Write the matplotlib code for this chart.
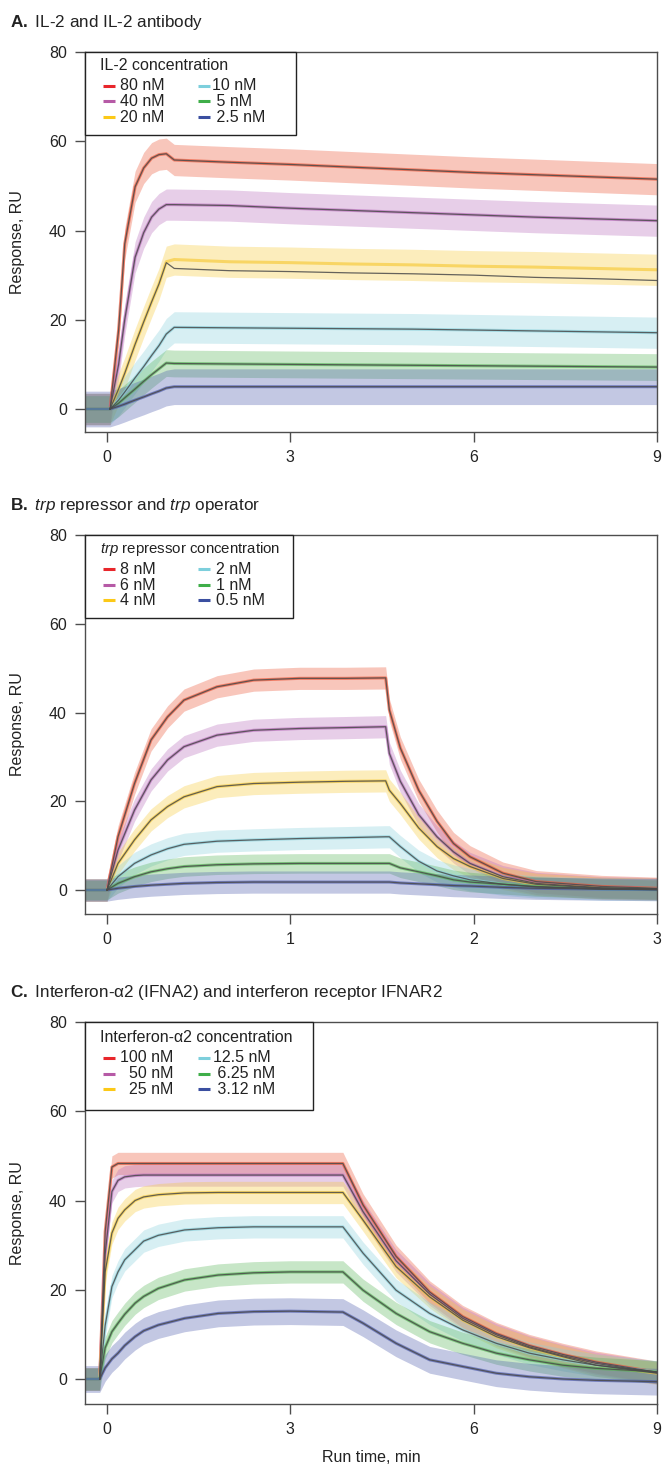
import numpy as np
import matplotlib
matplotlib.use('Agg')
import matplotlib.pyplot as plt
from matplotlib.patches import Rectangle

plt.rcParams['font.family'] = ['Liberation Sans', 'DejaVu Sans']
plt.rcParams['mathtext.fontset'] = 'custom'
plt.rcParams['mathtext.rm'] = 'Liberation Sans'
plt.rcParams['mathtext.it'] = 'Liberation Sans:italic'
plt.rcParams['mathtext.bf'] = 'Liberation Sans:bold'

TRACE_COLORS = ['#ec5233', '#b86bbb', '#f6c936', '#86d0db', '#55b455', '#4a58ac']
HANDLE_COLORS = ['#e8262b', '#b65aa6', '#fcc917', '#7dcfdc', '#3fae49', '#3b4fa0']
FIT_COLOR = '#4a4a4a'
TEXT_COLOR = '#222222'
FS = 11.5
TITLE_FS = 12.3

# ---- Panel A: IL-2 / IL-2 antibody (fitted responses, RU) ----
a_time = [-0.36, 0.0, 0.05, 0.19, 0.29, 0.46, 0.6, 0.73, 0.85, 0.97, 1.1,
          2.0, 3.0, 4.0, 5.0, 6.0, 7.0, 8.0, 9.0]
a_80 = [0, 0, 0, 17.7, 37, 49.8, 54, 56.2, 57, 57.2, 55.8,
        55.3, 54.8, 54.2, 53.6, 53, 52.5, 52, 51.5]
a_40 = [0, 0, 0, 10, 20, 34, 39.5, 43, 44.8, 45.8, 45.8,
        45.6, 45, 44.5, 44, 43.5, 43, 42.6, 42.2]
a_20 = [0, 0, 0, 4.5, 8, 14.5, 19.5, 24, 28, 32.8, 31.5,
        31, 30.8, 30.5, 30.3, 30, 29.5, 29.2, 28.8]
a_10 = [0, 0, 0, 2, 3.8, 7, 9.5, 12, 14.2, 16.8, 18.3,
        18.2, 18.1, 18, 17.9, 17.7, 17.5, 17.3, 17.1]
a_5 = [0, 0, 0, 1.3, 2.5, 4.5, 6.2, 7.7, 9, 10.3, 10.2,
       10.1, 10, 9.9, 9.8, 9.7, 9.6, 9.5, 9.4]
a_2_5 = [0, 0, 0, 0.6, 1.1, 2, 2.7, 3.4, 4, 4.7, 5,
         5, 5, 5, 5, 5, 5, 5, 5]
# measured 20 nM trace sits above its fit
a_20_trace = [0, 0, 0, 4.5, 8, 14.5, 19.5, 24, 28, 33, 33.5,
              33, 32.8, 32.5, 32.3, 32, 31.8, 31.5, 31.2]
a_noise = [3.5, 3.5, 3.5, 3.5, 3, 4]
a_labels = ['80 nM', '40 nM', '20 nM', '10 nM', ' 5 nM', ' 2.5 nM']

# ---- Panel B: trp repressor / trp operator ----
b_time = [-0.12, 0.0, 0.06, 0.15, 0.24, 0.33, 0.42, 0.6, 0.8, 1.05, 1.3, 1.52,
          1.54, 1.6, 1.7, 1.8, 1.89, 1.98, 2.16, 2.34, 2.7, 3.0]
b_8 = [0, 0, 12, 24, 33.8, 39, 42.8, 45.8, 47.3, 47.7, 47.7, 47.8,
       40.6, 32, 22.5, 15.5, 10.5, 7.5, 3.8, 1.9, 0.8, 0.4]
b_6 = [0, 0, 9, 18, 24.8, 29.3, 32.3, 34.9, 36, 36.4, 36.6, 36.8,
       30.8, 24.5, 17, 12, 8.6, 6, 3, 1.5, 0.5, 0.3]
b_4 = [0, 0, 6, 11.3, 15.8, 18.8, 21, 23.3, 24, 24.3, 24.5, 24.6,
       22.5, 19.5, 14, 9.8, 7.1, 5.3, 2.6, 1.3, 0.4, 0.2]
b_2 = [0, 0, 3, 6, 7.9, 9.3, 10.3, 11, 11.3, 11.6, 11.8, 12.0,
       12.0, 9.8, 6.5, 4.3, 3.2, 2.3, 1.3, 0.7, 0.2, 0.1]
b_1 = [0, 0, 1.5, 3, 4.1, 4.8, 5.3, 5.7, 5.9, 6, 6, 6,
       6, 5, 4.1, 3.2, 2.3, 1.8, 1.3, 0.8, 0.3, 0.1]
b_0_5 = [0, 0, 0.4, 0.8, 1.1, 1.3, 1.5, 1.7, 1.8, 1.8, 1.8, 1.8,
         1.8, 1.6, 1.4, 1.2, 1.0, 0.9, 0.6, 0.4, 0.2, 0.1]
b_noise = [2.5, 2.5, 2.5, 2.5, 2.2, 2.5]
b_labels = ['8 nM', '6 nM', '4 nM', '2 nM', '1 nM', '0.5 nM']

# ---- Panel C: IFNA2 / IFNAR2 ----
c_time = [-0.36, -0.12, -0.03, 0.08, 0.18, 0.29, 0.46, 0.6, 0.84, 1.27, 1.82,
          2.4, 3.0, 3.86, 4.19, 4.73, 5.28, 5.82, 6.37, 6.91, 7.46, 8.0, 9.0]
c_100 = [0, 0, 33, 47.5, 48.3, 48.3, 48.3, 48.3, 48.3, 48.3, 48.3,
         48.3, 48.3, 48.3, 39, 27.5, 19.5, 14, 10.2, 7.5, 5.5, 3.8, 1.5]
c_50 = [0, 0, 28, 42, 44.5, 45.3, 45.6, 45.7, 45.7, 45.7, 45.7,
        45.7, 45.7, 45.7, 37.5, 26.5, 19, 13.6, 9.9, 7.2, 5.2, 3.5, 1.4]
c_25 = [0, 0, 24, 32.7, 36, 37.9, 40, 40.8, 41.3, 41.7, 41.8,
        41.8, 41.8, 41.8, 35.6, 25.2, 18.4, 13.2, 9.5, 7, 5, 3.1, 1.3]
c_12_5 = [0, 0, 12, 20.7, 24, 26.7, 29, 30.9, 32.2, 33.4, 33.9,
          34.1, 34.1, 34.1, 28.2, 19.9, 14.7, 11, 8, 5.8, 4.3, 3.1, 1.6]
c_6_25 = [0, 0, 7, 10.6, 12.5, 14.5, 17, 18.5, 20.3, 22.2, 23.3,
          23.8, 24, 24, 19.9, 14.7, 10.6, 8, 5.8, 4.3, 3.1, 2.4, 1.6]
c_3_12 = [0, 0, 2.5, 4.5, 5.8, 7.5, 9.5, 10.8, 12.1, 13.6, 14.7,
          15.1, 15.2, 15, 12.5, 8, 4.3, 2.8, 1.3, 0.5, 0, -0.3, -0.6]
c_noise = [2.5, 2.5, 2.5, 2.5, 2.5, 3]
c_labels = ['100 nM', '  50 nM', '  25 nM', '12.5 nM', ' 6.25 nM', ' 3.12 nM']

FIG_W, FIG_H = 665, 1464


def draw_traces(ax, time, fits, traces, noise, fit_start):
    t = np.array(time)
    for fit, trace, nw, col in zip(fits, traces, noise, TRACE_COLORS):
        y = np.array(trace if trace is not None else fit, dtype=float)
        ax.fill_between(t, y - nw, y + nw, color=col, alpha=0.33, lw=0)
        ax.plot(t, y, color=col, lw=2.2, alpha=0.65, solid_joinstyle='round')
    mask = t >= fit_start
    for fit in fits:
        y = np.array(fit, dtype=float)
        ax.plot(t[mask], y[mask], color=FIT_COLOR, lw=0.9, alpha=0.85)


def draw_legend(ax, title, labels, box_w, box_h, title_dy, row_dy, text_x,
                title_fs=FS):
    """Legend box in pixel units measured from the axes' top-left corner."""
    pos = ax.get_position()
    aw, ah = pos.width * FIG_W, pos.height * FIG_H
    fx = lambda px: px / aw
    fy = lambda py: 1 - py / ah
    ax.add_patch(Rectangle((0, fy(box_h)), fx(box_w), box_h / ah,
                           transform=ax.transAxes, facecolor='white',
                           edgecolor=TEXT_COLOR, lw=1.0, zorder=5, clip_on=False))
    ax.text(fx(15), fy(title_dy), title, transform=ax.transAxes, ha='left',
            va='center', fontsize=title_fs, color=TEXT_COLOR, zorder=6)
    handle_x = [(18, 30), (113, 125)]
    for i, (lab, col) in enumerate(zip(labels, HANDLE_COLORS)):
        c, r = divmod(i, 3)
        yy = fy(row_dy[r])
        ax.plot([fx(handle_x[c][0]), fx(handle_x[c][1])], [yy, yy],
                color=col, lw=2.2, transform=ax.transAxes, zorder=6,
                solid_capstyle='butt')
        ax.text(fx(text_x[c]), yy, lab, transform=ax.transAxes, ha='left',
                va='center', fontsize=FS, color=TEXT_COLOR, zorder=6)


def style_axes(ax, xlim, ylim, xticks):
    ax.set_xlim(*xlim)
    ax.set_ylim(*ylim)
    ax.set_xticks(xticks)
    ax.set_yticks([0, 20, 40, 60, 80])
    for sp in ax.spines.values():
        sp.set_color('#4d4d4d')
        sp.set_linewidth(1.0)
    ax.tick_params(direction='out', length=7, width=1.0, color='#4d4d4d',
                   labelsize=FS, labelcolor=TEXT_COLOR, pad=6)
    ax.set_ylabel('Response, RU', fontsize=FS, color=TEXT_COLOR)
    ax.yaxis.set_label_coords(-0.105, 0.5)


fig = plt.figure(figsize=(FIG_W / 100, FIG_H / 100), dpi=100)
left, width = 85 / FIG_W, 572 / FIG_W


def add_axes(top_px, bottom_px):
    return fig.add_axes([left, 1 - bottom_px / FIG_H, width,
                         (bottom_px - top_px) / FIG_H])


# Panel A
axA = add_axes(52, 432)
draw_traces(axA, a_time, [a_80, a_40, a_20, a_10, a_5, a_2_5],
            [None, None, a_20_trace, None, None, None], a_noise, 0.05)
style_axes(axA, (-0.36, 9), (-5.15, 80), [0, 3, 6, 9])
draw_legend(axA, 'IL-2 concentration', a_labels, 211, 83, 14, [34, 49, 65], [35, 127])
fig.text(10 / FIG_W, 1 - 27 / FIG_H, r'$\mathbf{A.}$ IL-2 and IL-2 antibody',
         fontsize=TITLE_FS, color=TEXT_COLOR, va='baseline')

# Panel B
axB = add_axes(535, 914)
draw_traces(axB, b_time, [b_8, b_6, b_4, b_2, b_1, b_0_5],
            [None] * 6, b_noise, 0.0)
style_axes(axB, (-0.12, 3), (-5.4, 80), [0, 1, 2, 3])
draw_legend(axB, r'$\mathit{trp}$ repressor concentration', b_labels,
            208, 83, 14, [34, 50, 65], [35, 131], title_fs=10.8)
fig.text(10 / FIG_W, 1 - 510 / FIG_H,
         r'$\mathbf{B.}$ $\mathit{trp}$ repressor and $\mathit{trp}$ operator',
         fontsize=TITLE_FS, color=TEXT_COLOR, va='baseline')

# Panel C
axC = add_axes(1022, 1404)
draw_traces(axC, c_time, [c_100, c_50, c_25, c_12_5, c_6_25, c_3_12],
            [None] * 6, c_noise, -0.12)
style_axes(axC, (-0.36, 9), (-5.6, 80), [0, 3, 6, 9])
draw_legend(axC, 'Interferon-α2 concentration', c_labels,
            228, 88, 16, [36, 52, 67], [35, 128])
axC.set_xlabel('Run time, min', fontsize=FS, color=TEXT_COLOR, labelpad=9)
fig.text(10 / FIG_W, 1 - 997 / FIG_H,
         r'$\mathbf{C.}$ Interferon-α2 (IFNA2) and interferon receptor IFNAR2',
         fontsize=TITLE_FS, color=TEXT_COLOR, va='baseline')

fig.savefig('out.png', dpi=100)
